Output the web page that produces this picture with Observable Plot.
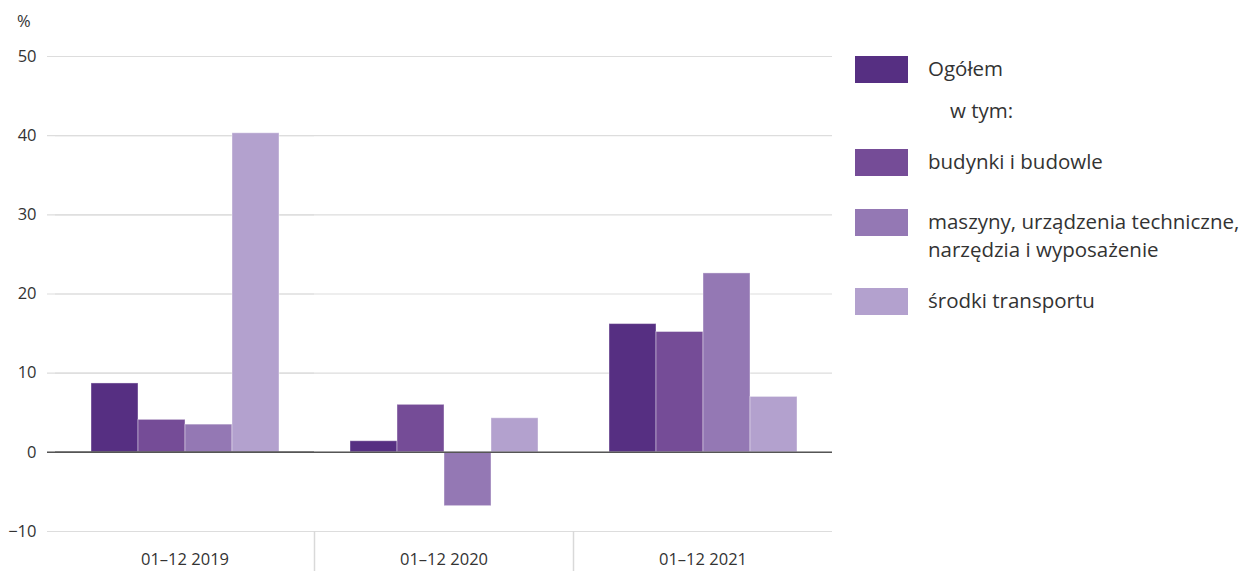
<!DOCTYPE html>
<html>
<head>
<meta charset="utf-8">
<script src="https://cdn.jsdelivr.net/npm/d3@7"></script>
<script src="https://cdn.jsdelivr.net/npm/@observablehq/plot@0.6"></script>
<style>
  html, body { margin: 0; padding: 0; background: #fff; }
  #wrap { position: relative; width: 1242px; height: 571px; font-family: "Open Sans", sans-serif; color: #333; }
  #chart { position: absolute; left: 0; top: 0; }
  #unit { position: absolute; left: 17px; top: 10px; font-size: 16.5px; line-height: 22px; color: #333; }
  .sw { position: absolute; left: 855px; width: 53px; height: 27px; }
  .lt { position: absolute; left: 928px; font-size: 20.5px; line-height: 28px; color: #333; white-space: nowrap; }
</style>
</head>
<body>
<div id="wrap"><div id="chart"></div><div id="unit"></div><div id="legend"></div></div>
<script>
const categories = ["01–12 2019", "01–12 2020", "01–12 2021"];
const seriesNames = ["Ogółem", "budynki i budowle", "maszyny, urządzenia techniczne, narzędzia i wyposażenie", "środki transportu"];
const ogolem = [8.7, 1.4, 16.2];
const budynki = [4.1, 6.0, 15.2];
const maszyny = [3.5, -6.8, 22.6];
const transport = [40.3, 4.3, 7.0];
const colors = ["#562f82", "#754c97", "#9478b4", "#b3a1ce"];
const yTicks = [-10, 0, 10, 20, 30, 40, 50];
const unitLabel = "%";

const seriesValues = [ogolem, budynki, maszyny, transport];
const data = [];
categories.forEach((c, i) => {
  seriesNames.forEach((s, j) => data.push({category: c, series: s, value: seriesValues[j][i]}));
});

const W = 840, H = 571, mL = 47, inL = 8, mR = 8;
const band = (W - mL - inL - mR) / categories.length;
const first = () => categories[0];

const chart = Plot.plot({
  width: W,
  height: H,
  marginLeft: mL,
  marginRight: mR,
  marginTop: 56,
  marginBottom: 40,
  style: {fontFamily: "'Open Sans', sans-serif", fontSize: "16px", color: "#333", background: "#fff"},
  fx: {domain: categories, padding: 0, insetLeft: inL, label: null},
  x: {domain: seriesNames, paddingInner: 0, paddingOuter: 0.755, axis: null},
  y: {domain: [-10, 50], ticks: yTicks, label: null, axis: null},
  color: {domain: seriesNames, range: colors},
  marks: [
    Plot.ruleY(yTicks, {stroke: "#dddddd", strokeWidth: 1.2}),
    Plot.ruleY(yTicks, {fx: first, stroke: "#dddddd", strokeWidth: 1.2, insetLeft: -inL}),
    Plot.axisY({ticks: yTicks, tickSize: 0, tickPadding: 19, label: null, fontSize: 16.5}),
    Plot.axisFx({anchor: "bottom", tickSize: 0, tickPadding: 22, label: null, fontSize: 16.5}),
    Plot.axisFx({anchor: "bottom", ticks: categories.slice(1), text: null, tickSize: 40, dx: -band / 2, stroke: "#d9d9d9", strokeWidth: 1.5, label: null}),
    Plot.barY(data, {fx: "category", x: "series", y: "value", fill: "series", stroke: "#fff", strokeOpacity: 0.4, strokeWidth: 1}),
    Plot.ruleY([0], {stroke: "#555", strokeWidth: 1.5}),
    Plot.ruleY([0], {fx: first, stroke: "#555", strokeWidth: 1.5, insetLeft: -inL})
  ]
});
document.getElementById("chart").appendChild(chart);
document.getElementById("unit").textContent = unitLabel;

const legend = document.getElementById("legend");
const swTops = [56, 149, 209, 288];
const txt = [
  {t: "Ogółem", top: 54},
  {t: "w tym:", top: 96, left: 950},
  {t: "budynki i budowle", top: 147},
  {t: "maszyny, urządzenia techniczne,<br>narzędzia i wyposażenie", top: 207},
  {t: "środki transportu", top: 286}
];
swTops.forEach((t, i) => {
  const d = document.createElement("div");
  d.className = "sw"; d.style.top = t + "px"; d.style.background = colors[i];
  legend.appendChild(d);
});
txt.forEach(o => {
  const d = document.createElement("div");
  d.className = "lt"; d.style.top = o.top + "px";
  if (o.left) d.style.left = o.left + "px";
  d.innerHTML = o.t;
  legend.appendChild(d);
});
</script>
</body>
</html>
